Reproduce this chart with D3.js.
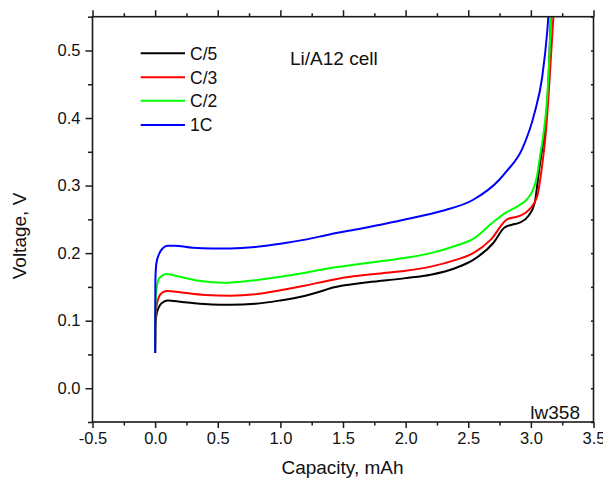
<!DOCTYPE html>
<html><head><meta charset="utf-8">
<script src="https://cdn.jsdelivr.net/npm/d3@7/dist/d3.min.js"></script>
<style>
html,body{margin:0;padding:0;background:#fff;}
svg{display:block;font-family:"Liberation Sans",Arial,sans-serif;}
</style></head>
<body><svg id="chart" width="603" height="482"></svg>
<script>
// Data (capacity in mAh, voltage in V)
const seriesNames = ["C/5", "C/3", "C/2", "1C"];
const seriesColors = ["#000000", "#ff0000", "#00ff00", "#0000ff"];

const capC5 = [0, 0.002, 0.01, 0.03, 0.06, 0.1, 0.15, 0.3, 0.45, 0.6, 0.8, 1.0, 1.2, 1.3, 1.4, 1.5, 1.7, 2.0, 2.2, 2.4, 2.54, 2.7, 2.79, 2.85, 2.91, 2.98, 3.03, 3.07, 3.09, 3.11, 3.14, 3.16, 3.17];
const voltC5 = [0.052, 0.09, 0.108, 0.12, 0.127, 0.130, 0.129, 0.126, 0.124, 0.1236, 0.125, 0.130, 0.137, 0.142, 0.148, 0.152, 0.157, 0.163, 0.168, 0.178, 0.190, 0.215, 0.238, 0.242, 0.245, 0.255, 0.274, 0.329, 0.354, 0.378, 0.453, 0.551, 0.58];

const capC3 = [0, 0.002, 0.01, 0.03, 0.06, 0.1, 0.2, 0.4, 0.6, 0.8, 1.0, 1.2, 1.4, 1.6, 1.8, 2.0, 2.2, 2.4, 2.54, 2.68, 2.81, 2.91, 2.99, 3.05, 3.09, 3.12, 3.14, 3.16, 3.18, 3.19];
const voltC3 = [0.052, 0.10, 0.12, 0.135, 0.142, 0.144, 0.142, 0.138, 0.137, 0.139, 0.145, 0.152, 0.160, 0.166, 0.170, 0.174, 0.180, 0.190, 0.200, 0.220, 0.250, 0.255, 0.265, 0.284, 0.330, 0.380, 0.430, 0.490, 0.551, 0.58];

const capC2 = [0, 0.002, 0.01, 0.03, 0.06, 0.09, 0.2, 0.35, 0.55, 0.8, 1.0, 1.2, 1.4, 1.6, 1.8, 2.0, 2.2, 2.4, 2.54, 2.7, 2.8, 2.9, 2.97, 3.02, 3.05, 3.07, 3.1, 3.13, 3.15, 3.16, 3.17];
const voltC2 = [0.052, 0.12, 0.145, 0.162, 0.167, 0.169, 0.165, 0.159, 0.156, 0.160, 0.165, 0.171, 0.178, 0.183, 0.188, 0.193, 0.200, 0.211, 0.221, 0.246, 0.260, 0.270, 0.280, 0.295, 0.315, 0.340, 0.375, 0.430, 0.500, 0.551, 0.58];

const cap1C = [0, 0.002, 0.01, 0.03, 0.06, 0.1, 0.15, 0.3, 0.45, 0.6, 0.8, 1.0, 1.2, 1.4, 1.6, 1.8, 2.0, 2.28, 2.54, 2.75, 2.81, 2.93, 3.03, 3.09, 3.13, 3.14, 3.15];
const volt1C = [0.052, 0.16, 0.185, 0.198, 0.207, 0.211, 0.211, 0.208, 0.207, 0.207, 0.209, 0.214, 0.220, 0.228, 0.235, 0.242, 0.250, 0.262, 0.279, 0.309, 0.322, 0.354, 0.408, 0.460, 0.527, 0.551, 0.58];

const seriesCap = [capC5, capC3, capC2, cap1C];
const seriesVolt = [voltC5, voltC3, voltC2, volt1C];

const xTickValues = [-0.5, 0.0, 0.5, 1.0, 1.5, 2.0, 2.5, 3.0, 3.5];
const xTickLabels = ["-0.5", "0.0", "0.5", "1.0", "1.5", "2.0", "2.5", "3.0", "3.5"];
const yTickValues = [0.0, 0.1, 0.2, 0.3, 0.4, 0.5];
const yTickLabels = ["0.0", "0.1", "0.2", "0.3", "0.4", "0.5"];
const xMinorTicks = [-0.25, 0.25, 0.75, 1.25, 1.75, 2.25, 2.75, 3.25];
const yMinorTicks = [-0.05, 0.05, 0.15, 0.25, 0.35, 0.45, 0.55];

// Layout
const svg = d3.select("#chart");
const L = 92.5, R = 593.5, T = 16.7, B = 422;
const x = d3.scaleLinear().domain([-0.5, 3.5]).range([L, R]);
const y = d3.scaleLinear().domain([-0.05, 0.55]).range([B, T]);
const axisColor = "#1a1a1a";
const textColor = "#111";

svg.append("defs").append("clipPath").attr("id", "plotclip")
  .append("rect").attr("x", L).attr("y", T).attr("width", R - L).attr("height", B - T);

// Data lines
const line = d3.line().x(d => x(d[0])).y(d => y(d[1])).curve(d3.curveMonotoneX);
const plot = svg.append("g").attr("clip-path", "url(#plotclip)");
seriesNames.forEach((name, i) => {
  const pts = seriesCap[i].map((c, k) => [c, seriesVolt[i][k]]);
  plot.append("path").datum(pts)
    .attr("d", line).attr("fill", "none")
    .attr("stroke", seriesColors[i]).attr("stroke-width", 2)
    .attr("stroke-linejoin", "round");
});

// Axes
function styleAxis(g) {
  g.select(".domain").remove();
  g.selectAll(".tick line").attr("stroke", axisColor).attr("stroke-width", 1.5);
}
const tickFont = 16.5;
// bottom major
const gB = svg.append("g").attr("transform", `translate(0,${B})`)
  .call(d3.axisBottom(x).tickValues(xTickValues).tickSize(6).tickPadding(4)
    .tickFormat((d, i) => xTickLabels[i]));
styleAxis(gB);
gB.selectAll("text").attr("font-size", tickFont).attr("fill", textColor).attr("font-family", "Liberation Sans, Arial, sans-serif");
svg.append("g").attr("transform", `translate(0,${B})`)
  .call(d3.axisBottom(x).tickValues(xMinorTicks).tickSize(3.5).tickFormat("")).call(styleAxis);
// top
svg.append("g").attr("transform", `translate(0,${T})`)
  .call(d3.axisTop(x).tickValues(xTickValues).tickSize(6.5).tickFormat("")).call(styleAxis);
svg.append("g").attr("transform", `translate(0,${T})`)
  .call(d3.axisTop(x).tickValues(xMinorTicks).tickSize(3.5).tickFormat("")).call(styleAxis);
// left
const gL = svg.append("g").attr("transform", `translate(${L},0)`)
  .call(d3.axisLeft(y).tickValues(yTickValues).tickSize(7).tickPadding(5)
    .tickFormat((d, i) => yTickLabels[i]));
styleAxis(gL);
gL.selectAll("text").attr("font-size", tickFont).attr("fill", textColor).attr("font-family", "Liberation Sans, Arial, sans-serif");
svg.append("g").attr("transform", `translate(${L},0)`)
  .call(d3.axisLeft(y).tickValues(yMinorTicks).tickSize(4.5).tickFormat("")).call(styleAxis);
// right (inward)
svg.append("g").attr("transform", `translate(${R},0)`)
  .call(d3.axisRight(y).tickValues(yTickValues.concat(yMinorTicks)).tickSize(-2.5).tickFormat("")).call(styleAxis);

// Frame
svg.append("rect").attr("x", L).attr("y", T).attr("width", R - L).attr("height", B - T)
  .attr("fill", "none").attr("stroke", axisColor).attr("stroke-width", 1.6);

// Axis titles
svg.append("text").attr("x", (L + R) / 2 - 0.5).attr("y", 474)
  .attr("text-anchor", "middle").attr("font-size", 19).attr("fill", textColor)
  .text("Capacity, mAh");
svg.append("text").attr("transform", "translate(26,236) rotate(-90)")
  .attr("text-anchor", "middle").attr("font-size", 19).attr("fill", textColor)
  .text("Voltage, V");

// Legend
const legend = svg.append("g");
const legendY = [53.3, 77.3, 100.7, 125];
seriesNames.forEach((name, i) => {
  legend.append("line").attr("x1", 140.7).attr("x2", 185)
    .attr("y1", legendY[i]).attr("y2", legendY[i])
    .attr("stroke", seriesColors[i]).attr("stroke-width", 2);
  legend.append("text").attr("x", 190).attr("y", legendY[i] + 6.3)
    .attr("font-size", 17.5).attr("fill", textColor).text(name);
});

// Annotations
svg.append("text").attr("x", 290).attr("y", 65).attr("font-size", 19).attr("fill", textColor).text("Li/A12 cell");
svg.append("text").attr("x", 580).attr("y", 419).attr("text-anchor", "end").attr("font-size", 19).attr("fill", textColor).text("lw358");
</script>
</body></html>
